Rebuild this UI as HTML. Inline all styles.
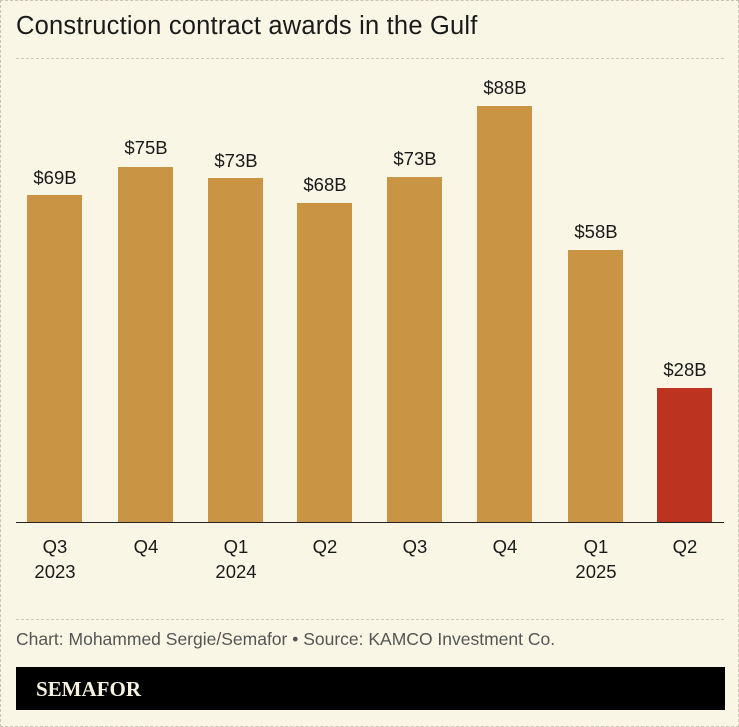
<!DOCTYPE html>
<html><head><style>
body{margin:0;background:#fff}
.w{position:relative;width:737px;height:725px;background:#f9f6e6;border:1px dashed #c9c4b4;font-family:"Liberation Sans",sans-serif;overflow:hidden}
.t{position:absolute;left:15px;top:11px;font-size:25.5px;color:#1a1a1a;letter-spacing:0.2px}
.d{position:absolute;left:15px;width:708px;border-top:1px dashed #cfc9b8}
.b{position:absolute;width:55px;background:#c99444}
.v{position:absolute;width:90px;text-align:center;font-size:18.5px;color:#1a1a1a}
.x{position:absolute;width:90px;text-align:center;font-size:18.5px;line-height:25px;color:#1a1a1a;top:533px}
.s{position:absolute;left:15px;top:628px;font-size:17.5px;color:#555}
.k{position:absolute;left:15px;top:666px;width:709px;height:43px;background:#000}
.k span{position:absolute;left:20px;top:10px;color:#f6f1e0;font-family:"Liberation Serif",serif;font-weight:bold;font-size:21px}
</style></head><body><div class="w">
<div class="t">Construction contract awards in the Gulf</div>
<div class="d" style="top:57px"></div>
<div class="b" style="left:26px;top:194px;height:327px"></div>
<div class="b" style="left:117px;top:166px;height:355px"></div>
<div class="b" style="left:207px;top:177px;height:344px"></div>
<div class="b" style="left:296px;top:202px;height:319px"></div>
<div class="b" style="left:386px;top:176px;height:345px"></div>
<div class="b" style="left:476px;top:105px;height:416px"></div>
<div class="b" style="left:567px;top:249px;height:272px"></div>
<div class="b" style="left:656px;top:387px;height:134px;background:#bc3320"></div>
<div style="position:absolute;left:15px;top:521px;width:708px;height:1px;background:#222"></div>
<div class="v" style="left:9px;top:166px">$69B</div>
<div class="v" style="left:100px;top:136px">$75B</div>
<div class="v" style="left:190px;top:149px">$73B</div>
<div class="v" style="left:279px;top:173px">$68B</div>
<div class="v" style="left:369px;top:147px">$73B</div>
<div class="v" style="left:459px;top:76px">$88B</div>
<div class="v" style="left:550px;top:220px">$58B</div>
<div class="v" style="left:639px;top:358px">$28B</div>
<div class="x" style="left:9px">Q3<br>2023</div>
<div class="x" style="left:100px">Q4</div>
<div class="x" style="left:190px">Q1<br>2024</div>
<div class="x" style="left:279px">Q2</div>
<div class="x" style="left:369px">Q3</div>
<div class="x" style="left:459px">Q4</div>
<div class="x" style="left:550px">Q1<br>2025</div>
<div class="x" style="left:639px">Q2</div>
<div class="d" style="top:618px"></div>
<div class="s">Chart: Mohammed Sergie/Semafor • Source: KAMCO Investment Co.</div>
<div class="k"><span>SEMAFOR</span></div>
</div></body></html>
